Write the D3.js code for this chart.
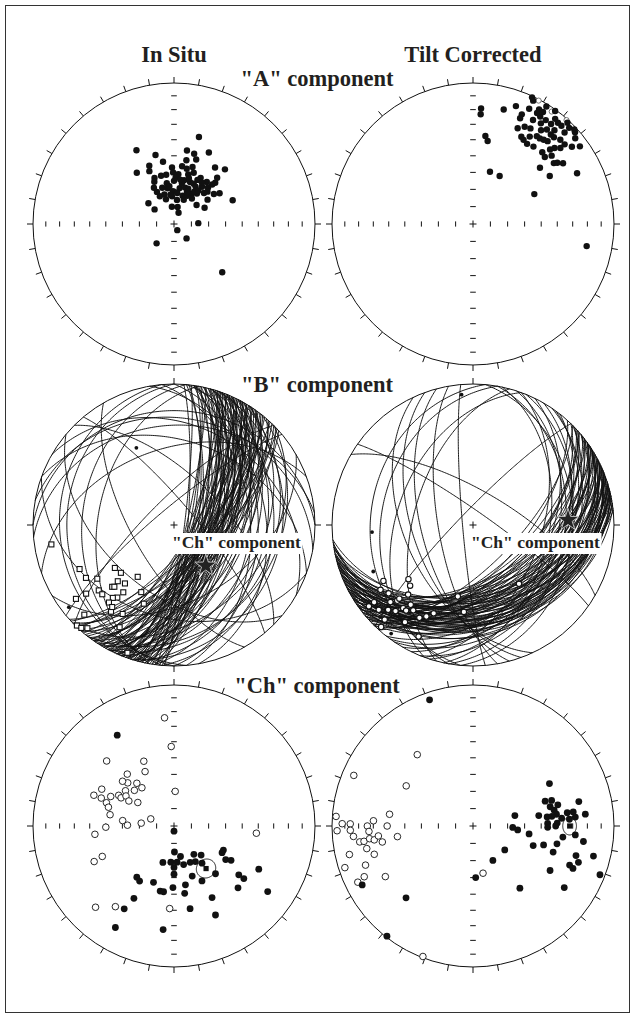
<!DOCTYPE html>
<html>
<head>
<meta charset="utf-8">
<script src="https://cdn.jsdelivr.net/npm/d3@7"></script>
<style>
  body { margin: 0; background: #fff; }
  svg { display: block; }
  text { font-family: "Liberation Serif", "Times New Roman", serif; font-weight: bold; fill: #231f20; }
</style>
</head>
<body>
<svg id="chart" width="636" height="1019"></svg>
<script>
// Directions are [declination, inclination] in degrees; negative inclination = upper hemisphere.
// Planes (remagnetisation circles) are [strike, dip] with the right-hand rule.

const columnTitles = ["In Situ", "Tilt Corrected"];
const rowTitles = ['"A" component', '"B" component', '"Ch" component'];
const insetLabel = '"Ch" component';

// "A" component, in situ
const aInSituDown = [
  [16,36],[333,41],[345,48],[10,46],[16,47],[26,43],[350,53],[337,53],[358,57],[11,52],[19,50],
  [324,53],[335,56],[345,61],[351,61],[8,56],[18,55],[36,49],[43,46],[337,61],[359,60],[5,61],
  [16,60],[30,59],[43,53],[335,63],[350,66],[0,65],[13,64],[21,64],[28,61],[38,59],[44,58],
  [331,66],[350,69],[358,71],[9,69],[17,68],[26,64],[37,63],[45,56],[332,69],[342,72],[6,72],
  [17,73],[30,70],[37,68],[44,65],[53,61],[56,58],[342,75],[7,76],[25,72],[54,66],[68,53],
  [309,71],[307,76],[353,80],[12,80],[50,73],[62,70],[22,83],[88,76],[152,86],[139,79],[222,75],
  [135,50],[353,68],[22,68],[2,63],[21,58],[13,57],[34,61],[43,61],[11,66],[32,68],[356,74],[342,68],
  [8,64],[18,62],[30,65],[36,66],[22,70],[46,63],[22,75],[35,72],[353,73],[333,72]
];
// "A" component, tilt corrected
const aTiltDown = [
  [25,1],[26,3],[4,19],[4,23],[15,17],[20,12],[24,16],[26,10],[30,7],[32,2],[24,19],[25,26],
  [28,23],[31,22],[30,16],[32,11],[35,11],[38,6],[42,7],[45,4],[48,3],[36,19],[38,16],[41,13],
  [45,9],[50,6],[8,37],[10,40],[29,30],[31,31],[34,32],[38,31],[38,24],[42,22],[43,17],[46,15],
  [49,15],[52,12],[54,7],[49,19],[47,22],[44,30],[46,25],[47,31],[49,27],[53,29],[54,27],[56,24],
  [50,38],[58,36],[64,19],[18,58],[29,58],[64,50],[101,19],[34,15],[38,11],[40,7],[30,10],[32,7],
  [36,1],[43,2],[47,2],[41,17],[40,23],[36,24],[33,27]
];
const aTiltUp = [[28,-1],[42,-1],[35,-3]];

// "B" component, in situ
const bInSituEnds = [
  [261,13],[245,27],[239,28],[235,34],[232,22],[229,30],[226,30],[225,38],[224,39],[225,43],
  [228,48],[234,47],[220,45],[218,35],[220,33],[220,29],[217,40],[215,53],[206,46],[201,40],
  [216,25],[210,28],[225,11],[224,1],[222,2],[220,5],[208,19],[200,4],[233,14],[217,28]
];
const bInSituDots = [[232,6],[334,39]];
const bInSituPlanes = [
  [4,82],[6,76],[7,84],[8,70],[9,79],[10,73],[11,81],[12,66],[13,75],[14,70],[15,78],[16,64],
  [17,72],[18,80],[18,68],[19,74],[20,62],[20,77],[21,70],[22,66],[22,82],[23,72],[24,60],[25,75],
  [25,68],[26,64],[27,79],[28,70],[28,58],[29,73],[30,66],[31,76],[32,62],[33,70],[34,78],[35,65],
  [36,72],[37,60],[38,68],[40,74],[42,64],[44,70],[46,62],[48,67],[12,58],[16,55],[24,52],[30,56],
  [35,54],[20,50],[27,48],[14,62],[9,65],[33,50],[19,57],
  [5,74],[8,62],[11,69],[13,83],[15,67],[17,60],[19,79],[21,75],[23,64],[24,70],[26,73],[27,61],
  [29,66],[31,70],[32,80],[34,67],[36,63],[39,70],[41,60],[43,76],[45,66],[47,72],[16,73],[22,58],
  [0,40],[5,30],[8,45],[15,35],[18,25],[22,42],[28,30],[32,38],[38,28],[45,35],[355,45],[350,35],
  [180,25],[185,35],[175,20],[190,45],[270,20],[280,25],[265,30],[230,80],[225,75],
  [290,40],[300,30],[250,45],[315,62],[320,78],[60,45],[110,35],[130,50],[150,66]
];
const bInSituMean = [142,60];

// "B" component, tilt corrected
const bTiltEnds = [
  [238,26],[235,21],[231,24],[232,12],[228,11],[225,16],[225,25],[220,24],[223,33],[218,29],
  [218,24],[215,27],[210,25],[207,28],[204,32],[223,9],[222,3],[215,17],[206,13],[192,47],
  [186,38],[142,46],[230,40],[226,38],[222,19],[227,21],[232,7],[225,27]
];
const bTiltDots = [[355,8],[266,29],[245,23],[217,4]];
const bTiltPlanes = [
  [42,62],[44,55],[45,66],[46,48],[47,58],[48,52],[49,62],[50,45],[51,56],[52,50],[53,60],[54,42],
  [55,54],[56,48],[57,58],[58,44],[58,52],[59,38],[60,56],[61,47],[62,50],[62,40],[63,58],[64,44],
  [65,52],[66,36],[66,48],[67,55],[68,42],[69,50],[70,34],[70,46],[71,53],[72,40],[73,48],[74,32],
  [74,44],[75,50],[76,38],[77,46],[78,30],[78,42],[79,36],[80,48],[81,34],[82,40],[83,30],[84,44],
  [50,35],[55,30],[60,32],[65,28],[70,28],[76,26],[45,40],[52,38],[57,34],[63,36],[68,32],[72,30],
  [48,58],[54,47],[59,55],[64,40],[69,45],[73,36],[77,41],[81,38],[56,26],[62,24],[67,30],[75,34],
  [5,30],[10,35],[18,40],[22,33],[26,45],[30,38],[34,30],[38,42],[12,45],[20,50],[36,35],
  [165,60],[170,70],[160,55],[175,84],[155,50],[305,82],[224,82],[190,35],[200,45],[185,28],[195,55],[300,70]
];
const bTiltMean = [87,33];

// "Ch" component, in situ
const chInSituDown = [
  [328,25],[180,87],[179,75],[168,72],[145,70],[137,67],[197,68],[185,69],[175,69],[166,67],
  [156,67],[149,66],[143,63],[180,66],[180,62],[139,53],[160,59],[153,54],[216,53],[212,52],
  [200,55],[192,51],[189,51],[181,54],[169,55],[171,50],[152,42],[119,58],[116,58],[123,54],
  [121,51],[127,42],[127,38],[134,37],[117,33],[125,20],[209,41],[211,32],[169,40],[155,31],
  [210,18],[186,27]
];
const chInSituUp = [
  [355,-24],[358,-43],[314,-34],[335,-48],[332,-54],[318,-49],[313,-53],[311,-50],[319,-57],
  [320,-61],[312,-59],[306,-55],[297,-42],[291,-39],[291,-44],[295,-49],[299,-53],[298,-55],
  [302,-57],[299,-60],[303,-65],[289,-48],[286,-50],[280,-52],[276,-60],[271,-63],[275,-71],
  [287,-76],[269,-50],[2,-70],[264,-43],[247,-44],[246,-38],[224,-21],[216,-30],[183,-41],[95,-41]
];
const chInSituMean = [143,59];
const chInSituA95 = 5.5;

// "Ch" component, tilt corrected
const chTiltDown = [
  [341,6],[61,38],[71,45],[72,41],[76,38],[77,24],[76,43],[79,41],[82,40],[81,51],[83,46],[83,43],
  [82,33],[82,29],[84,21],[76,65],[92,67],[95,64],[88,46],[91,46],[88,40],[86,32],[85,28],[98,57],
  [108,53],[105,47],[102,39],[97,36],[95,28],[98,22],[108,40],[127,67],[150,67],[177,60],[120,37],
  [106,25],[109,22],[112,27],[113,24],[104,13],[111,4],[143,44],[124,23],[223,31],[242,12],[218,1],
  [85,37],[90,41]
];
const chTiltUp = [
  [322,-36],[293,-9],[301,-44],[274,-3],[271,-8],[271,-14],[268,-4],[265,-16],[262,-20],[270,-26],
  [267,-27],[273,-30],[278,-40],[270,-39],[262,-45],[262,-23],[263,-27],[262,-30],[264,-33],[260,-35],
  [258,-24],[257,-11],[254,-28],[250,-20],[252,-5],[245,-16],[244,-10],[240,-29],[168,-62],[201,-1],
  [268,-14]
];
const chTiltMean = [90,32];
const chTiltA95 = 4.5;

// ---------------------------------------------------------------- layout
const W = 636, H = 1019;
const R = 141;
const colX = [174, 473];
const rowY = [224, 525, 826];

const svg = d3.select("#chart");

svg.append("rect")
  .attr("x", 5.5).attr("y", 5.5).attr("width", W - 12).attr("height", H - 12)
  .attr("fill", "none").attr("stroke", "#333").attr("stroke-width", 1);

// Lower-hemisphere equal-area (Schmidt) net centred on the vertical.
function netProjection(cx, cy) {
  return d3.geoAzimuthalEqualArea()
    .rotate([0, -90])
    .clipAngle(90)
    .scale(R / Math.SQRT2)
    .translate([cx, cy])
    .precision(0.1);
}
const geo = d => [180 - d[0], Math.abs(d[1])];

function planeLine(p) {
  const [strike, dip] = p;
  const ring = d3.geoCircle().center([270 - strike, 90 - dip]).radius(90).precision(1)();
  return { type: "LineString", coordinates: ring.coordinates[0] };
}

function drawFrame(g, proj, cx, cy, fullTicks) {
  g.append("circle").attr("cx", cx).attr("cy", cy).attr("r", R)
    .attr("fill", "none").attr("stroke", "#111").attr("stroke-width", 1);

  const az = fullTicks ? d3.range(0, 360, 10) : [0, 90, 180, 270];
  g.selectAll(".rim").data(az).join("line")
    .attr("x1", a => proj(geo([a, 0]))[0])
    .attr("y1", a => proj(geo([a, 0]))[1])
    .attr("x2", a => { const p = proj(geo([a, 0])); return p[0] + (p[0] - cx) / R * 6; })
    .attr("y2", a => { const p = proj(geo([a, 0])); return p[1] + (p[1] - cy) / R * 6; })
    .attr("stroke", "#111").attr("stroke-width", 1);

  if (fullTicks) {
    const marks = [];
    [0, 90, 180, 270].forEach(a => d3.range(10, 90, 10).forEach(i => marks.push([a, i])));
    g.selectAll(".axtick").data(marks).join("line")
      .each(function (d) {
        const p = proj(geo(d));
        const vertAxis = d[0] === 0 || d[0] === 180;
        d3.select(this)
          .attr("x1", vertAxis ? p[0] - 2.8 : p[0]).attr("x2", vertAxis ? p[0] + 2.8 : p[0])
          .attr("y1", vertAxis ? p[1] : p[1] - 2.6).attr("y2", vertAxis ? p[1] : p[1] + 2.6);
      })
      .attr("stroke", "#111").attr("stroke-width", 1);
  }
  g.append("path").attr("d", `M${cx - 3.5},${cy}H${cx + 3.5}M${cx},${cy - 3.5}V${cy + 3.5}`)
    .attr("stroke", "#111").attr("stroke-width", 1);
}

function dots(g, proj, data, r, fill, stroke, sw) {
  g.append("g").selectAll("circle").data(data).join("circle")
    .attr("cx", d => proj(geo(d))[0]).attr("cy", d => proj(geo(d))[1])
    .attr("r", r).attr("fill", fill).attr("stroke", stroke).attr("stroke-width", sw);
}

function squares(g, proj, data, s) {
  g.append("g").selectAll("rect").data(data).join("rect")
    .attr("x", d => proj(geo(d))[0] - s / 2).attr("y", d => proj(geo(d))[1] - s / 2)
    .attr("width", s).attr("height", s)
    .attr("fill", "#fff").attr("stroke", "#111").attr("stroke-width", 1.1);
}

function meanCone(g, proj, mean, a95) {
  const path = d3.geoPath(proj);
  const cone = d3.geoCircle().center(geo(mean)).radius(a95).precision(2)();
  g.append("path").attr("d", path(cone)).attr("fill", "none").attr("stroke", "#111").attr("stroke-width", 1);
  const p = proj(geo(mean));
  g.append("rect").attr("x", p[0] - 2.6).attr("y", p[1] - 2.6).attr("width", 5.2).attr("height", 5.2)
    .attr("fill", "#111");
}

function planes(g, proj, data) {
  const path = d3.geoPath(proj);
  g.append("g").selectAll("path").data(data).join("path")
    .attr("d", d => path(planeLine(d)))
    .attr("fill", "none").attr("stroke", "#111").attr("stroke-width", 0.95);
}

function star(g, proj, mean) {
  const p = proj(geo(mean));
  g.append("path").attr("d", d3.symbol(d3.symbolStar).size(150)())
    .attr("transform", `translate(${p[0]},${p[1]})`)
    .attr("fill", "#222").attr("stroke", "#bbb").attr("stroke-width", 1);
}

function inset(g, cx, cy) {
  g.append("rect").attr("x", cx - 3.5).attr("y", cy + 8).attr("width", 132).attr("height", 21)
    .attr("fill", "#fff");
  g.append("text").attr("x", cx - 2).attr("y", cy + 23).attr("font-size", 17.5).text(insetLabel);
}

// ---------------------------------------------------------------- panels
// "A" component
[[aInSituDown, []], [aTiltDown, aTiltUp]].forEach(([down, up], c) => {
  const cx = colX[c], cy = rowY[0];
  const proj = netProjection(cx, cy);
  const g = svg.append("g");
  drawFrame(g, proj, cx, cy, true);
  dots(g, proj, up, 2.6, "#fff", "#555", 0.8);
  dots(g, proj, down, 3.2, "#111", "none", 0);
});

// "B" component
{
  const cx = colX[0], cy = rowY[1];
  const proj = netProjection(cx, cy);
  const g = svg.append("g");
  drawFrame(g, proj, cx, cy, false);
  planes(g, proj, bInSituPlanes);
  squares(g, proj, bInSituEnds, 5);
  dots(g, proj, bInSituDots, 1.9, "#111", "none", 0);
  star(g, proj, bInSituMean);
  inset(g, cx, cy);
}
{
  const cx = colX[1], cy = rowY[1];
  const proj = netProjection(cx, cy);
  const g = svg.append("g");
  drawFrame(g, proj, cx, cy, false);
  planes(g, proj, bTiltPlanes);
  dots(g, proj, bTiltEnds, 2.7, "#fff", "#111", 1.1);
  dots(g, proj, bTiltDots, 1.9, "#111", "none", 0);
  star(g, proj, bTiltMean);
  inset(g, cx, cy);
}

// "Ch" component
[[chInSituDown, chInSituUp, chInSituMean, chInSituA95], [chTiltDown, chTiltUp, chTiltMean, chTiltA95]]
  .forEach(([down, up, mean, a95], c) => {
    const cx = colX[c], cy = rowY[2];
    const proj = netProjection(cx, cy);
    const g = svg.append("g");
    drawFrame(g, proj, cx, cy, true);
    dots(g, proj, up, 3.3, "#fff", "#111", 0.9);
    dots(g, proj, down, 3.4, "#111", "none", 0);
    meanCone(g, proj, mean, a95);
  });

// ---------------------------------------------------------------- titles
svg.selectAll(".coltitle").data(columnTitles).join("text")
  .attr("x", (d, i) => colX[i]).attr("y", 62).attr("text-anchor", "middle")
  .attr("font-size", 22.5).text(d => d);

svg.selectAll(".rowtitle").data(rowTitles).join("text")
  .attr("x", 317).attr("y", (d, i) => [86, 392, 693][i]).attr("text-anchor", "middle")
  .attr("font-size", 22.5).text(d => d);
</script>
</body>
</html>
